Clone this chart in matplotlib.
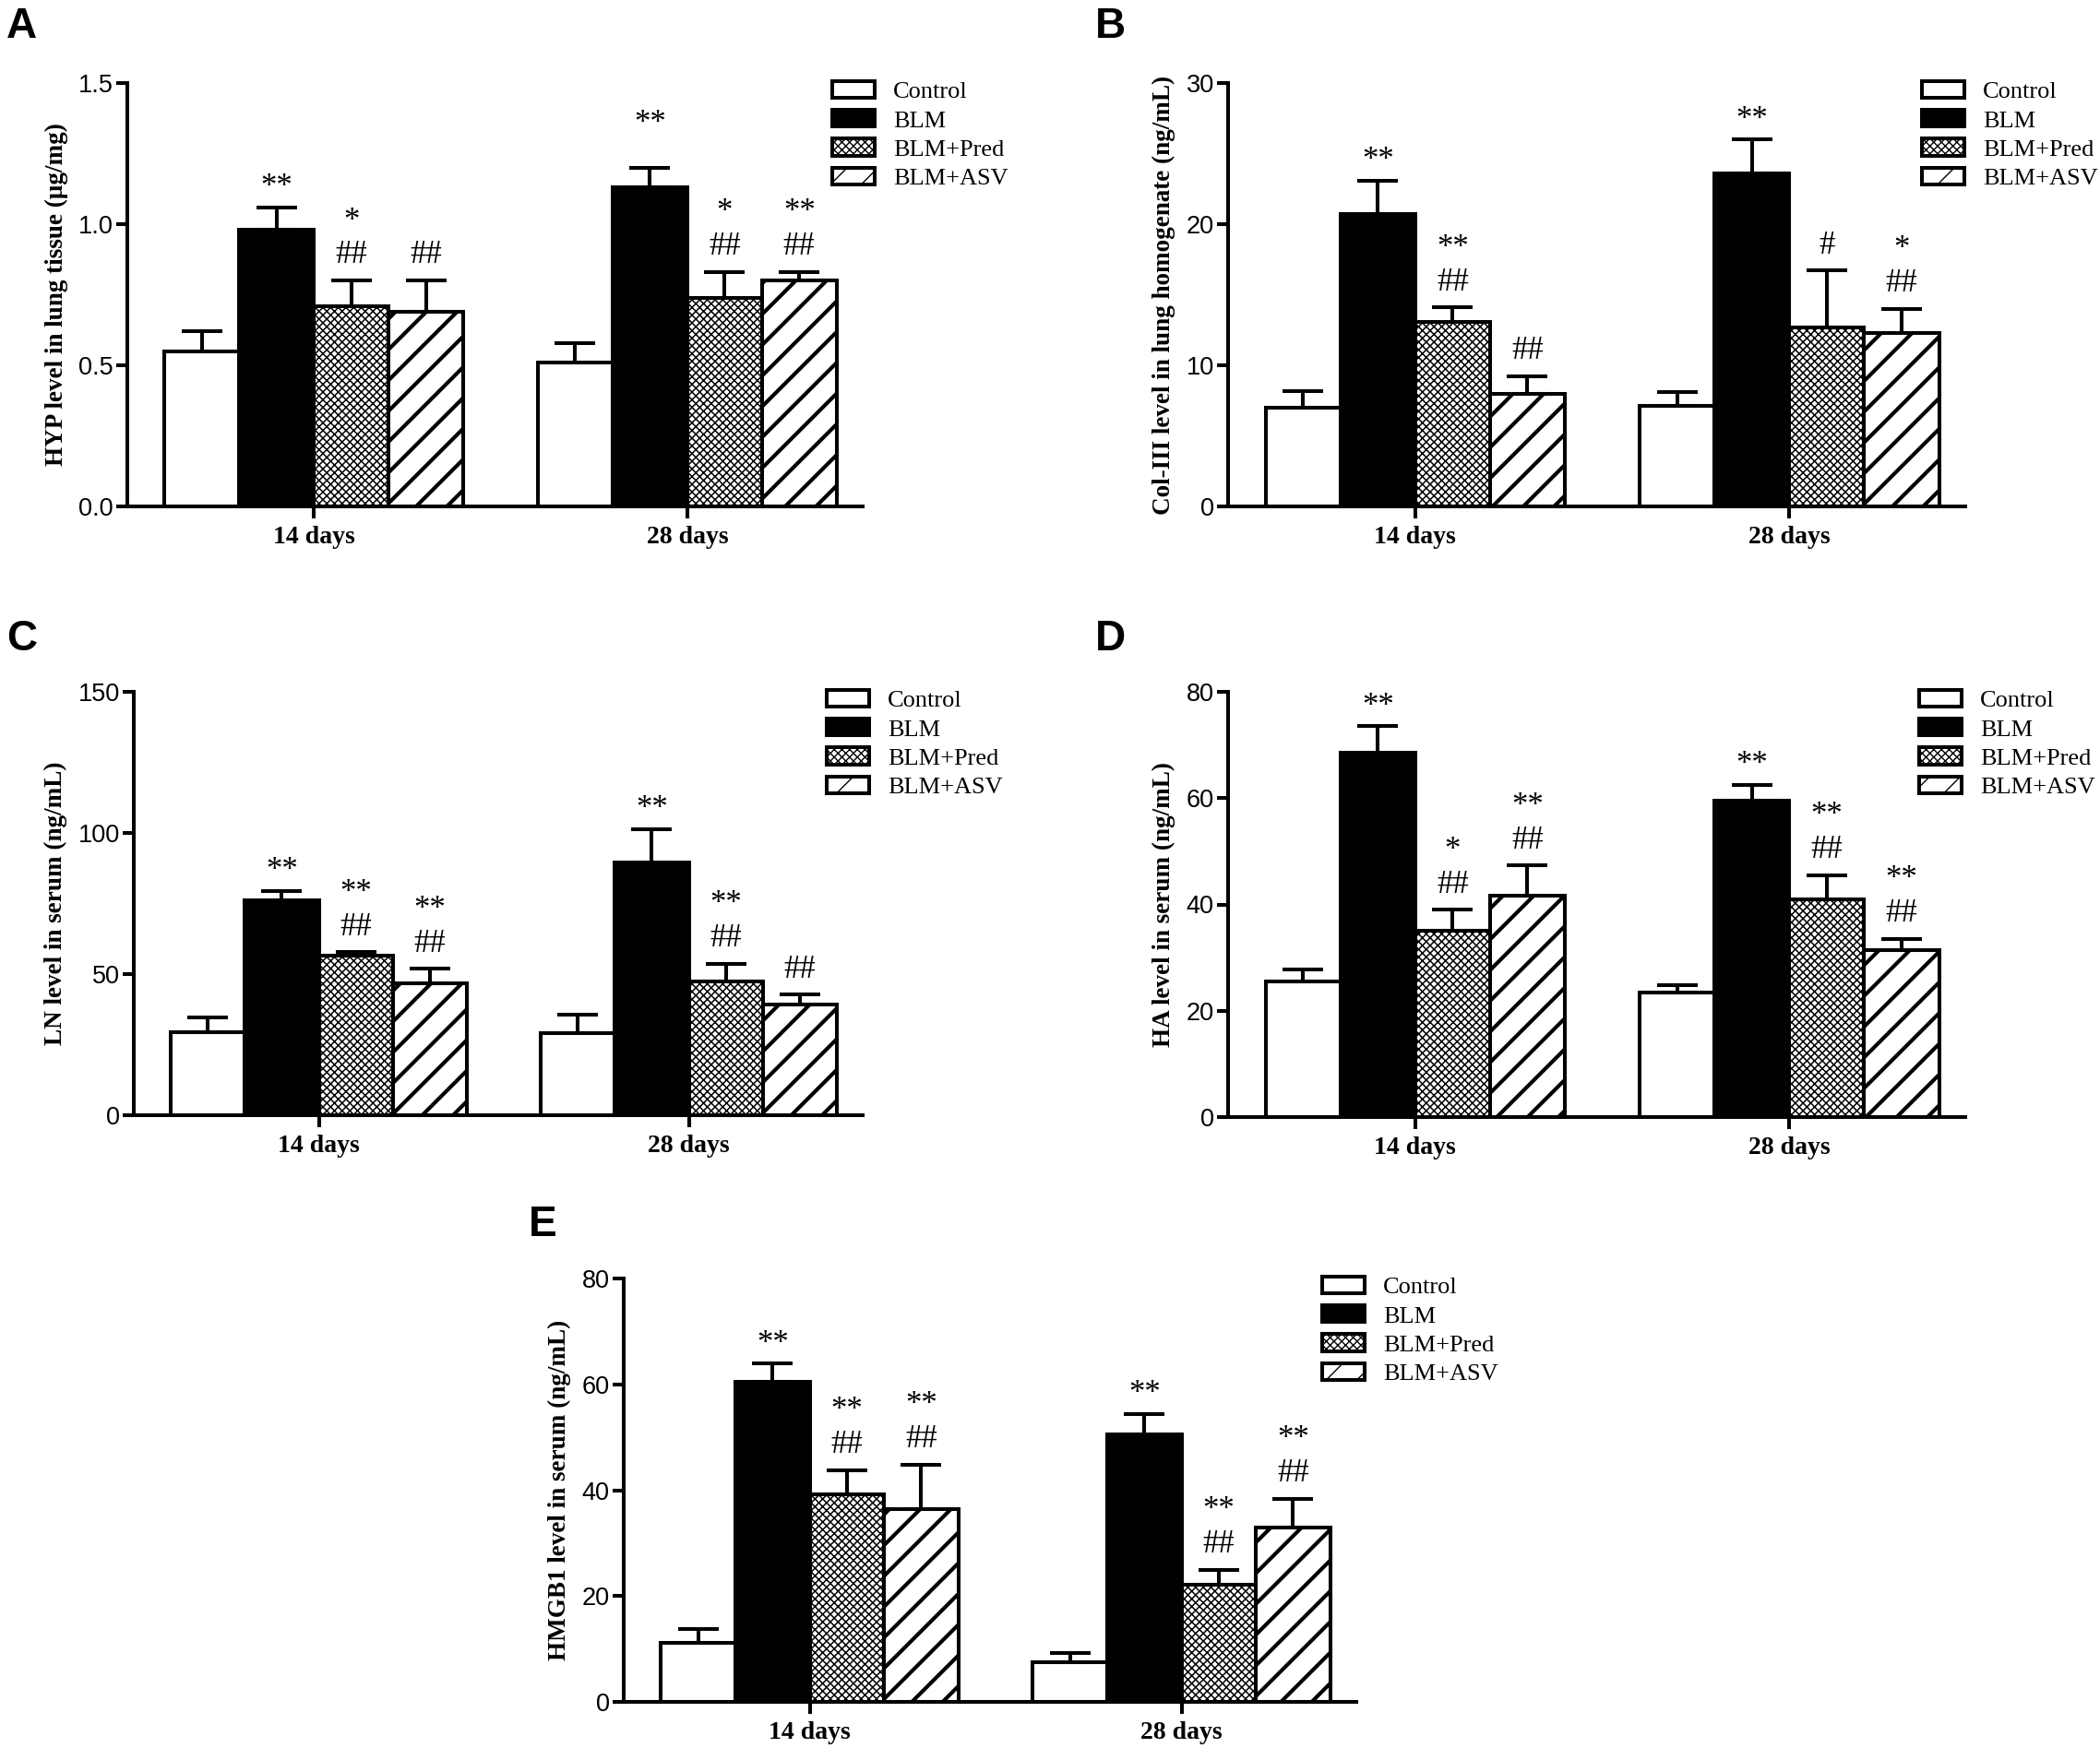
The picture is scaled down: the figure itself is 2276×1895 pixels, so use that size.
import numpy as np
import matplotlib
matplotlib.use('Agg')
import matplotlib.pyplot as plt

# Groups and treatments
groups = ['14 days', '28 days']
treatments = ['Control', 'BLM', 'BLM+Pred', 'BLM+ASV']

# A - HYP in lung tissue
hyp_mean = [[0.55, 0.98, 0.71, 0.69], [0.51, 1.13, 0.74, 0.80]]
hyp_err = [[0.07, 0.08, 0.09, 0.11], [0.07, 0.07, 0.09, 0.03]]
hyp_star = [['', '**', '*', ''], ['', '**', '*', '**']]
hyp_hash = [['', '', '##', '##'], ['', '', '##', '##']]

# B - Col-III in lung homogenate
col_mean = [[7.0, 20.7, 13.1, 8.0], [7.1, 23.6, 12.7, 12.3]]
col_err = [[1.2, 2.4, 1.0, 1.2], [1.0, 2.4, 4.0, 1.7]]
col_star = [['', '**', '**', ''], ['', '**', '', '*']]
col_hash = [['', '', '##', '##'], ['', '', '#', '##']]

# C - LN in serum
ln_mean = [[29.3, 76.2, 56.6, 46.6], [29.1, 89.4, 47.3, 39.1]]
ln_err = [[5.3, 3.3, 1.1, 5.2], [6.4, 12.0, 6.3, 3.6]]
ln_star = [['', '**', '**', '**'], ['', '**', '**', '']]
ln_hash = [['', '', '##', '##'], ['', '', '##', '##']]

# D - HA in serum
ha_mean = [[25.5, 68.5, 35.1, 41.6], [23.4, 59.6, 41.0, 31.4]]
ha_err = [[2.3, 5.0, 3.9, 5.7], [1.4, 2.9, 4.5, 2.1]]
ha_star = [['', '**', '*', '**'], ['', '**', '**', '**']]
ha_hash = [['', '', '##', '##'], ['', '', '##', '##']]

# E - HMGB1 in serum
hmg_mean = [[11.1, 60.5, 39.2, 36.4], [7.5, 50.6, 22.2, 33.0]]
hmg_err = [[2.7, 3.4, 4.6, 8.4], [1.8, 3.8, 2.8, 5.4]]
hmg_star = [['', '**', '**', '**'], ['', '**', '**', '**']]
hmg_hash = [['', '', '##', '##'], ['', '', '##', '##']]

# Fonts
TICK_FONT = 'Liberation Sans'
SERIF = 'Liberation Serif'

W, H = 2276, 1895
LW = 2.9

fig = plt.figure(figsize=(W / 100, H / 100), dpi=100)


def px_axes(left, top, right, bottom):
    # axes from pixel box of the picture
    return fig.add_axes([left / W, 1 - bottom / H, (right - left) / W, (bottom - top) / H])


def draw_panel(ax, means, errs, stars, hashes, ylabel, yticks, fmt, leg_xy, lift=None):
    lift = lift or {}
    styles = [
        dict(color='white', hatch=None, hlw=1.0),
        dict(color='black', hatch=None, hlw=1.0),
        dict(color='white', hatch='xxxx', hlw=1.1),
        dict(color='white', hatch='/', hlw=3.0),
    ]
    handles = []
    for i, name in enumerate(treatments):
        xs = [g * 5 + i + 1 for g in range(len(groups))]
        ys = [means[g][i] for g in range(len(groups))]
        es = [errs[g][i] for g in range(len(groups))]
        st = styles[i]
        with plt.rc_context({'hatch.linewidth': st['hlw']}):
            bars = ax.bar(xs, ys, width=1.0, color=st['color'], edgecolor='black',
                          linewidth=LW, hatch=st['hatch'], zorder=2, label=name)
            for p in bars:
                try:
                    p.set_hatch_linewidth(st['hlw'])
                except AttributeError:
                    pass
        ax.errorbar(xs, ys, yerr=[np.zeros(len(es)), es], fmt='none', ecolor='black',
                    elinewidth=LW, capsize=15.5, capthick=LW, zorder=3)
        handles.append(bars)

        # significance marks above the error bars
        for g in range(len(groups)):
            top = ys[g] + es[g]
            lines = [s for s in (hashes[g][i], stars[g][i]) if s]
            for k, s in enumerate(lines):
                fs = 25
                c = 0.52 if '*' in s else 0.34
                off = 22 + 31 * k - c * fs + lift.get((g, i), 0)
                ax.annotate(s, (xs[g], top), xytext=(0, off), textcoords='offset points',
                            ha='center', va='baseline', fontsize=fs, family=SERIF)

    ax.set_xlim(0, 9.85)
    ax.set_ylim(yticks[0], yticks[-1])
    ax.set_yticks(yticks, labels=[fmt.format(t) for t in yticks], fontfamily=TICK_FONT, fontsize=19.5)
    ax.set_xticks([2.5, 7.5], labels=groups, fontfamily=SERIF, fontweight='bold', fontsize=20)
    ax.tick_params(axis='both', width=LW, length=9, direction='out', pad=2)
    ax.tick_params(axis='x', pad=6)
    for side in ['top', 'right']:
        ax.spines[side].set_visible(False)
    for side in ['left', 'bottom']:
        ax.spines[side].set_linewidth(LW)
    ax.set_ylabel(ylabel, fontfamily=SERIF, fontweight='bold', fontsize=19.5, labelpad=8)

    leg = ax.legend(handles, treatments, loc='upper left',
                    bbox_to_anchor=(leg_xy[0] / W, 1 - leg_xy[1] / H), bbox_transform=fig.transFigure,
                    frameon=False, borderpad=0, borderaxespad=0, handlelength=1.75, handleheight=0.68,
                    handletextpad=0.75, labelspacing=0.3, prop={'family': SERIF, 'size': 19})
    return leg


# Panels
axA = px_axes(138, 90, 935, 549)
draw_panel(axA, hyp_mean, hyp_err, hyp_star, hyp_hash,
           'HYP level in lung tissue (μg/mg)', [0.0, 0.5, 1.0, 1.5], '{:.1f}', (902, 88),
           lift={(1, 1): 19})

axB = px_axes(1331, 90, 2130, 549)
draw_panel(axB, col_mean, col_err, col_star, col_hash,
           'Col-III level in lung homogenate (ng/mL)', [0, 10, 20, 30], '{:d}', (2083, 88))

axC = px_axes(145, 750, 935, 1209)
draw_panel(axC, ln_mean, ln_err, ln_star, ln_hash,
           'LN level in serum (ng/mL)', [0, 50, 100, 150], '{:d}', (896, 748))

axD = px_axes(1331, 750, 2130, 1211)
draw_panel(axD, ha_mean, ha_err, ha_star, ha_hash,
           'HA level in serum (ng/mL)', [0, 20, 40, 60, 80], '{:d}', (2080, 748))

axE = px_axes(676, 1386, 1470, 1845)
draw_panel(axE, hmg_mean, hmg_err, hmg_star, hmg_hash,
           'HMGB1 level in serum (ng/mL)', [0, 20, 40, 60, 80], '{:d}', (1433, 1384))

# Panel letters
for letter, (x, y) in zip('ABCDE', [(7, 7), (1187, 7), (7, 671), (1187, 671), (573, 1306)]):
    fig.text(x / W, 1 - y / H, letter, ha='left', va='top', fontsize=33,
             fontweight='bold', family='Liberation Sans')

fig.savefig('out.png', dpi=100)
